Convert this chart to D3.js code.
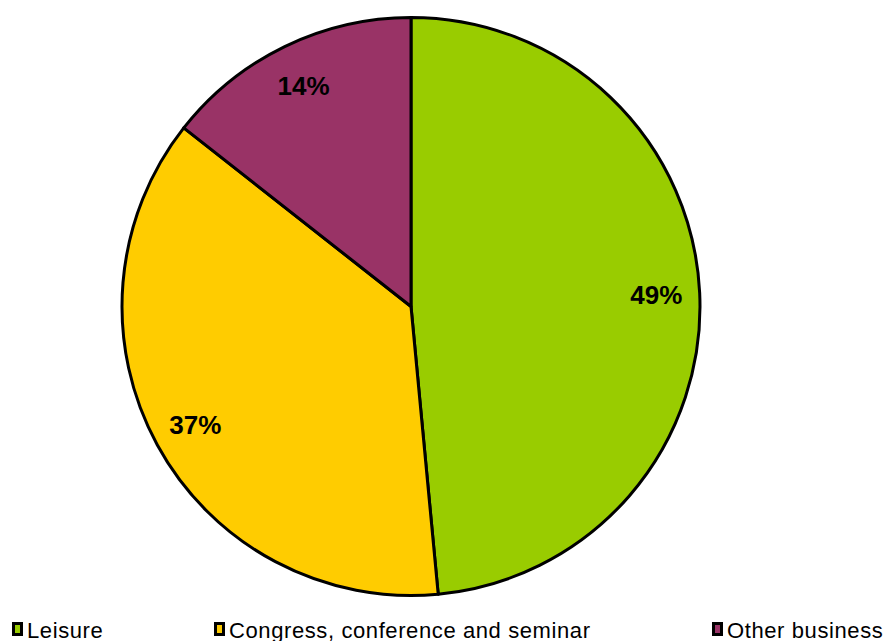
<!DOCTYPE html>
<html>
<head>
<meta charset="utf-8">
<script src="https://cdn.jsdelivr.net/npm/d3@7"></script>
<style>
  body { margin: 0; background: #fff; }
  svg { display: block; }
  .label { font-family: "Liberation Sans", Arial, sans-serif; font-weight: bold; font-size: 26px; }
  .legend text { font-family: "Liberation Sans", Arial, sans-serif; font-size: 22px; letter-spacing: 0.6px; }
</style>
</head>
<body>
<script>
const categories = ["Leisure", "Congress, conference and seminar", "Other business"];
const shares = [48.5, 37.1, 14.4];
const labels = ["49%", "37%", "14%"];
const colors = ["#99cc00", "#ffcc00", "#993366"];

const width = 893, height = 641;
const cx = 411, cy = 306.5, radius = 289;

const svg = d3.select("body")
    .append("svg")
    .attr("width", width)
    .attr("height", height);

const pie = d3.pie().sort(null).value(d => d);
const arcs = pie(shares);

const arc = d3.arc().innerRadius(0).outerRadius(radius);
const labelArc = d3.arc().innerRadius(radius * 0.85).outerRadius(radius * 0.85);

const g = svg.append("g")
    .attr("transform", "translate(" + cx + "," + cy + ")");

g.selectAll("path")
    .data(arcs)
    .enter()
    .append("path")
    .attr("d", arc)
    .attr("fill", (d, i) => colors[i])
    .attr("stroke", "#000")
    .attr("stroke-width", 3)
    .attr("stroke-linejoin", "round");

g.selectAll("text.label")
    .data(arcs)
    .enter()
    .append("text")
    .attr("class", "label")
    .attr("transform", d => "translate(" + labelArc.centroid(d) + ")")
    .attr("text-anchor", "middle")
    .attr("dy", "0.36em")
    .text((d, i) => labels[i]);

// legend
const legendX = [12, 214, 712];
const legend = svg.append("g").attr("class", "legend");

const item = legend.selectAll("g")
    .data(categories)
    .enter()
    .append("g")
    .attr("transform", (d, i) => "translate(" + legendX[i] + ",0)");

item.append("rect")
    .attr("x", 1.5)
    .attr("y", 623.5)
    .attr("width", 8)
    .attr("height", 11)
    .attr("fill", (d, i) => colors[i])
    .attr("stroke", "#000")
    .attr("stroke-width", 3);

item.append("text")
    .attr("x", 15)
    .attr("y", 638)
    .text(d => d);
</script>
</body>
</html>
